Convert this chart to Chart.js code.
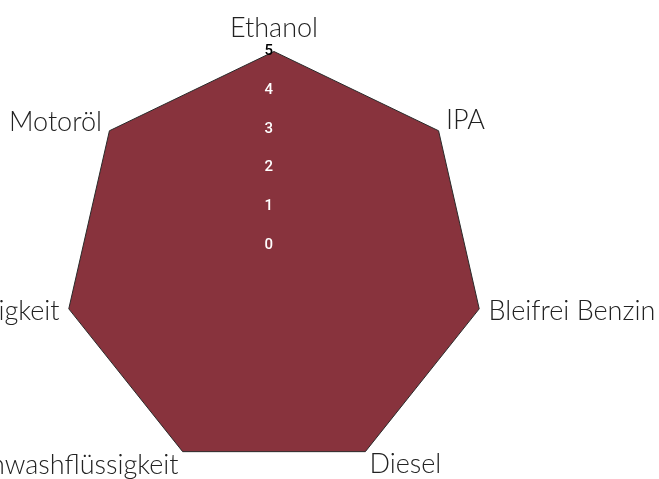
<!DOCTYPE html>
<html>
<head>
<meta charset="utf-8">
<script src="https://cdn.jsdelivr.net/npm/chart.js@4.4.1/dist/chart.umd.min.js"></script>
<style>
    html, body { margin: 0; padding: 0; background: #fff; overflow: hidden; width: 659px; height: 479px; }
    #wrap { position: absolute; left: -176px; top: 2px; width: 900px; height: 494px; }
</style>
</head>
<body>
<div id="wrap"><canvas id="fluessigChart"></canvas></div>
<script>
// Daten
const kategorien = ['Ethanol', 'IPA', 'Bleifrei Benzin', 'Diesel', 'Scheibenwashflüssigkeit', 'Bremsflüssigkeit', 'Motoröl'];
const werte = [5, 5, 5, 5, 5, 5, 5];
const tickLabels = [0, 1, 2, 3, 4, 5];

// Zeilenhöhe je Achsenbeschriftung, damit die Texte so sitzen wie im Original
const labelZeilenhoehe = [1.0, 0.35, 0, 0.3, 0.41, 0, 0.2];

function zeichneChart() {
    const ctx = document.getElementById('fluessigChart').getContext('2d');
    const fluessigChart = new Chart(ctx, {
        type: 'radar',
        data: {
            labels: kategorien,
            datasets: [{
                data: werte,
                backgroundColor: '#88333d',
                borderColor: '#2a2a2a',
                borderWidth: 1,
                pointRadius: 0,
                pointHoverRadius: 0
            }]
        },
        options: {
            responsive: true,
            maintainAspectRatio: false,
            animation: false,
            plugins: {
                legend: { display: false },
                tooltip: { enabled: false }
            },
            scales: {
                r: {
                    min: -0.443,
                    max: 5,
                    grid: { display: false },
                    angleLines: { display: false },
                    ticks: {
                        z: 1,
                        stepSize: 1,
                        showLabelBackdrop: false,
                        font: { family: 'Roboto', size: 15, weight: '500' },
                        color: c => c.tick && c.tick.value === 5 ? '#000' : '#fff',
                        // leicht nach links versetzt wie im Original
                        callback: v => tickLabels.includes(v) ? v + '\u2002\u2009' : ''
                    },
                    pointLabels: {
                        padding: 0,
                        color: '#222',
                        font: c => ({ family: 'Lato', size: 27, weight: '300', lineHeight: labelZeilenhoehe[c.index] })
                    }
                }
            }
        }
    });
}

document.addEventListener('DOMContentLoaded', function() {
    Promise.all([
        document.fonts.load('300 27px Lato'),
        document.fonts.load('500 15px Roboto')
    ]).then(zeichneChart, zeichneChart);
});
</script>
</body>
</html>
